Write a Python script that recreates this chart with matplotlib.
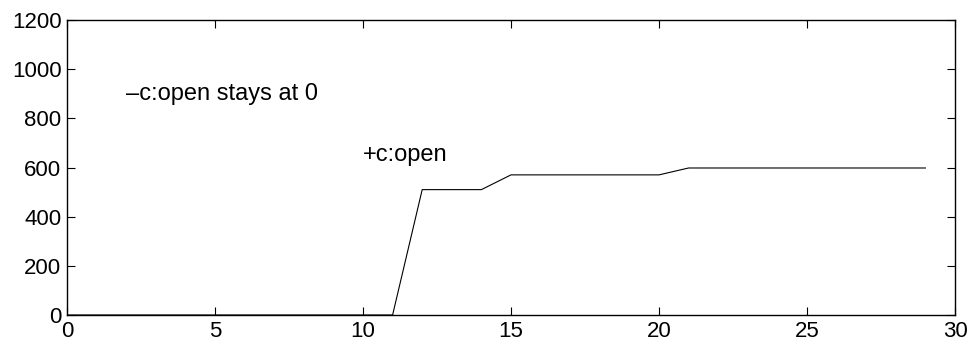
import matplotlib.pyplot as plt

plt.rcParams['font.family'] = ['Liberation Sans', 'DejaVu Sans']

# values
steps = list(range(0, 30))
opens = [0] * 12 + [510, 510, 510, 570, 570, 570, 570, 570, 570,
                    598, 598, 598, 598, 598, 598, 598, 598, 598]

fig = plt.figure(figsize=(9.69, 3.45), dpi=100)
ax = fig.add_axes([67 / 969, 30 / 345, 888 / 969, 295 / 345])

ax.plot(steps, opens, color='black', linewidth=0.8)

ax.text(2, 900, '\u2013c:open stays at 0', fontsize=17, va='center', ha='left')
ax.text(10, 650, '+c:open', fontsize=17, va='center', ha='left')

ax.set_xlim(0, 30)
ax.set_ylim(0, 1200)
ax.set_xticks([0, 5, 10, 15, 20, 25, 30])
ax.set_yticks([0, 200, 400, 600, 800, 1000, 1200])
ax.tick_params(direction='in', top=True, right=True, labelsize=16,
               length=6, width=0.8)
ax.tick_params(axis='x', pad=4)
ax.tick_params(axis='y', pad=4)
for s in ax.spines.values():
    s.set_linewidth(1.0)

fig.savefig('out.png', dpi=100)
